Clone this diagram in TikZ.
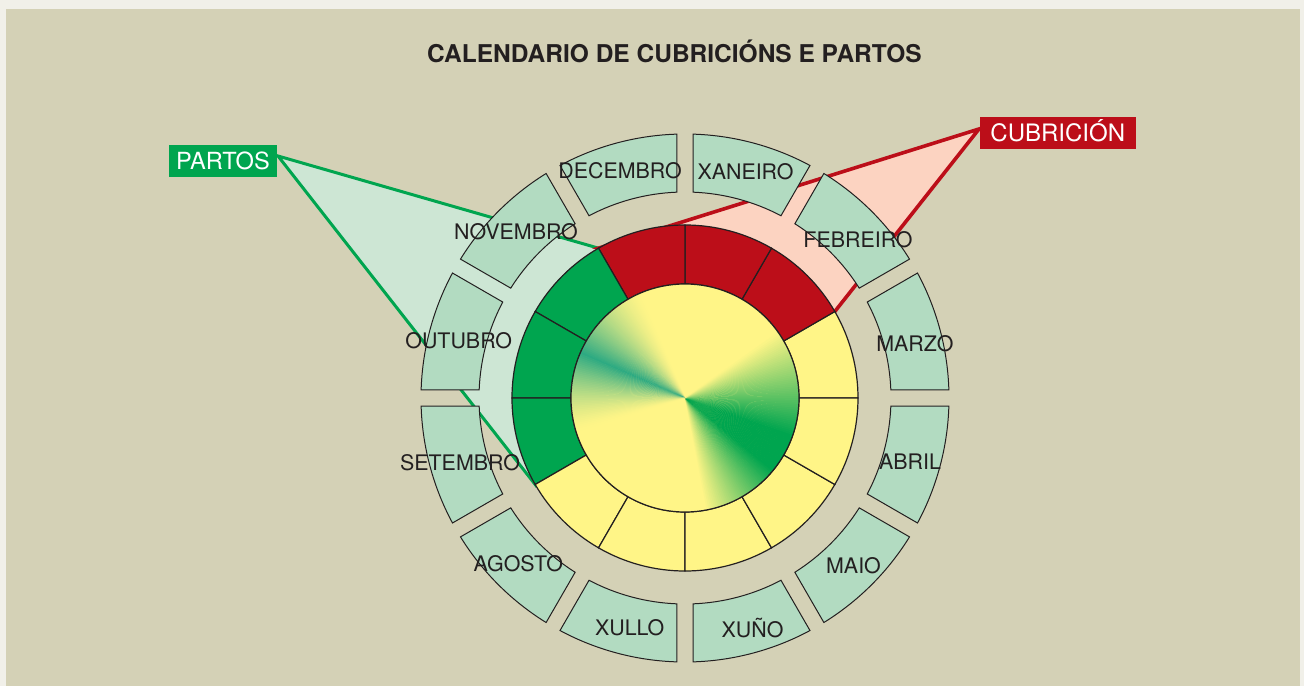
\documentclass[tikz,border=0pt]{standalone}
\usepackage{fontspec}
\setmainfont{TeX Gyre Heros}
\definecolor{edge}{HTML}{F1F0E9}
\definecolor{beige}{HTML}{D4D1B6}
\definecolor{ink}{HTML}{231F20}
\definecolor{mbox}{HTML}{B2DBC1}
\definecolor{lgreen}{HTML}{CDE6D4}
\definecolor{lpink}{HTML}{FCD3C1}
\definecolor{cred}{HTML}{BC0E19}
\definecolor{cgreen}{HTML}{00A54F}
\definecolor{cyel}{HTML}{FFF587}
\definecolor{cteal}{HTML}{2DAA82}
\tikzset{
  month/.style={font=\fontsize{10.7}{12}\selectfont, text=ink, text height=7.7pt, text depth=0pt, inner sep=0pt},
  monthbox/.style={fill=mbox, draw=ink, line width=0.5pt},
  seg/.style={draw=ink, line width=0.6pt},
  tag/.style={text=white, text height=8.5pt, text depth=0pt, inner sep=0pt, minimum height=16pt}
}
\begin{document}
\begin{tikzpicture}[x=0.5pt, y=0.5pt]
\useasboundingbox (-685,-288) rectangle (619,398);
\fill[edge] (-685,-288) rectangle (619,398);
\fill[beige] (-679,-288) rectangle (615,389);

% Callouts
\coordinate (ptip) at (-407,242);
\coordinate (ctip) at (294,269);
\coordinate (s30) at (30:173);
\coordinate (s120) at (120:173);
\coordinate (s210) at (210:173);
\filldraw[fill=lgreen, draw=cgreen, line width=1.5pt] (ptip) -- (s120) -- (s210) -- cycle;
\filldraw[fill=lpink, draw=cred, line width=1.8pt] (ctip) -- (s120) -- (s30) -- cycle;

% Month boxes
\foreach \a in {0,30,...,330}
  \draw[monthbox] (\a+2.23:206) -- (\a+1.74:264) arc[start angle=\a+1.74, end angle=\a+28.26, radius=264]
    -- (\a+27.77:206) arc[start angle=\a+27.77, end angle=\a+2.23, radius=206] -- cycle;

% Ring
\foreach \a/\col in {0/cyel, 30/cred, 60/cred, 90/cred, 120/cgreen, 150/cgreen, 180/cgreen, 210/cyel, 240/cyel, 270/cyel, 300/cyel, 330/cyel}
  \filldraw[seg, fill=\col] (\a:114) -- (\a:173) arc[start angle=\a, delta angle=30, radius=173]
    -- (\a+30:114) arc[start angle=\a+30, delta angle=-30, radius=114] -- cycle;

% Inner disc
\fill[cyel] (0,0) circle (114);
\foreach \a in {-80,...,34} {
  \pgfmathsetmacro\p{\a < -40 ? 2.5*(\a+80) : (\a < -20 ? 100 : (35-\a)*100/55)}
  \fill[cgreen!\p!cyel] (0,0) -- (\a:114) arc[start angle=\a, delta angle=1.3, radius=114] -- cycle;
}
\foreach \a in {113,...,196} {
  \pgfmathsetmacro\p{100*(max(0.001, 1-abs(\a-156)/(\a < 156 ? 44 : 41)))^1.5}
  \fill[cteal!\p!cyel] (0,0) -- (\a:114) arc[start angle=\a, delta angle=1.3, radius=114] -- cycle;
}
\draw[seg] (0,0) circle (114);

% Labels
\node[tag, fill=cgreen, minimum width=54pt, font=\fontsize{11.8}{13}\selectfont] (partos) at (-462,237) {PARTOS};
\node[tag, fill=cred, minimum width=77.8pt, font=\fontsize{12}{13}\selectfont] (cubricion) at (372.8,265.2) {CUBRICIÓN};
\node[font=\bfseries\fontsize{12.25}{14}\selectfont, text=ink, text height=8.8pt, text depth=0pt, inner sep=0pt] (title) at (-10.5,344) {CALENDARIO DE CUBRICIÓNS E PARTOS};

\foreach \x/\y/\name/\id in {60.5/226.3/XANEIRO/m1, 173/158/FEBREIRO/m2, 230/54.7/MARZO/m3, 225/-63.7/ABRIL/m4,
    168.5/-168/MAIO/m5, 67.5/-231.3/XUÑO/m6, -55.3/-229.7/XULLO/m7, -166.7/-165.3/AGOSTO/m8,
    -225/-64.7/SETEMBRO/m9, -226.3/57.3/OUTUBRO/m10, -169/166.3/NOVEMBRO/m11, -65/227.3/DECEMBRO/m12}
  \node[month] (\id) at (\x,\y) {\name};
\end{tikzpicture}
\end{document}
